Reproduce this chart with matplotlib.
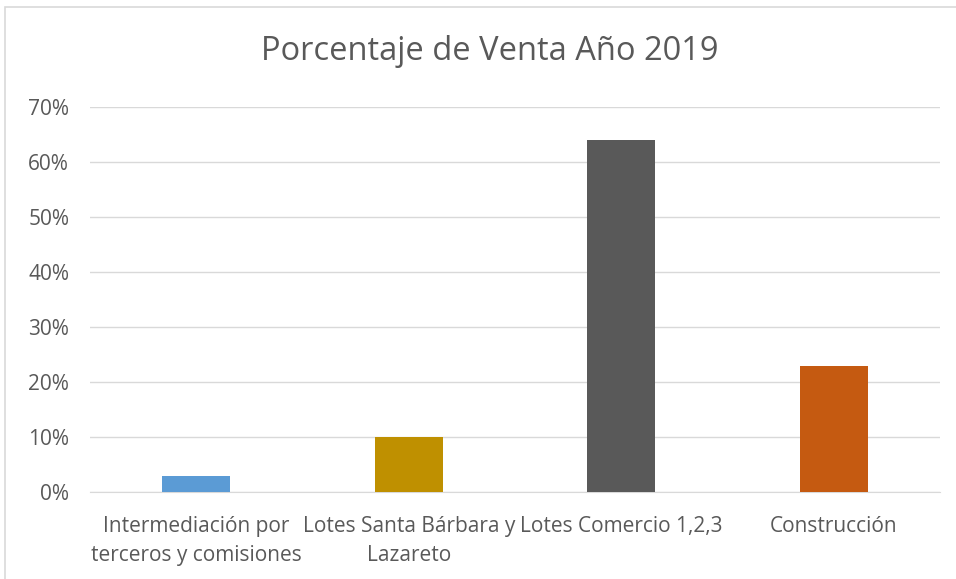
import matplotlib.pyplot as plt
from matplotlib.patches import Rectangle
from matplotlib.ticker import FuncFormatter

categories = ['Intermediación por\nterceros y comisiones', 'Lotes Santa Bárbara y\nLazareto',
              'Lotes Comercio 1,2,3', 'Construcción']
values = [0.03, 0.10, 0.64, 0.23]
colors = ['#5B9BD5', '#BF9000', '#595959', '#C55A11']

plt.rcParams['font.family'] = ['Open Sans', 'DejaVu Sans']
text_color = '#595959'
grid_color = '#D9D9D9'

fig = plt.figure(figsize=(9.56, 5.79), dpi=100)
# light chart-area border (cut off at right and bottom as in the original)
fig.patches.append(Rectangle((5 / 956, -0.1), 1.2, (579 - 7) / 579 + 0.1, transform=fig.transFigure,
                             fill=False, edgecolor='#D9D9D9', linewidth=1.2))

ax = fig.add_axes([90 / 956, 87 / 579, 850 / 956, 385 / 579])
ax.bar(range(len(values)), values, width=0.32, color=colors, zorder=3)
ax.set_xlim(-0.5, len(values) - 0.5)
ax.set_ylim(0, 0.7)
ax.set_yticks([i / 10 for i in range(8)])
ax.yaxis.set_major_formatter(FuncFormatter(lambda v, _: f'{v * 100:.0f}%'))
ax.set_xticks(range(len(values)))
ax.set_xticklabels(categories, linespacing=1.45)
ax.grid(axis='y', color=grid_color, linewidth=1, zorder=0)
for s in ['top', 'right', 'left']:
    ax.spines[s].set_visible(False)
ax.spines['bottom'].set_color(grid_color)
ax.tick_params(axis='both', length=0, colors=text_color, labelsize=15)
ax.tick_params(axis='x', pad=17.5)
ax.tick_params(axis='y', pad=15)

fig.text(490 / 956, 1 - 52 / 579, 'Porcentaje de Venta Año 2019', ha='center', va='center',
         fontsize=23.5, color=text_color)

fig.savefig('out.png', dpi=100)
